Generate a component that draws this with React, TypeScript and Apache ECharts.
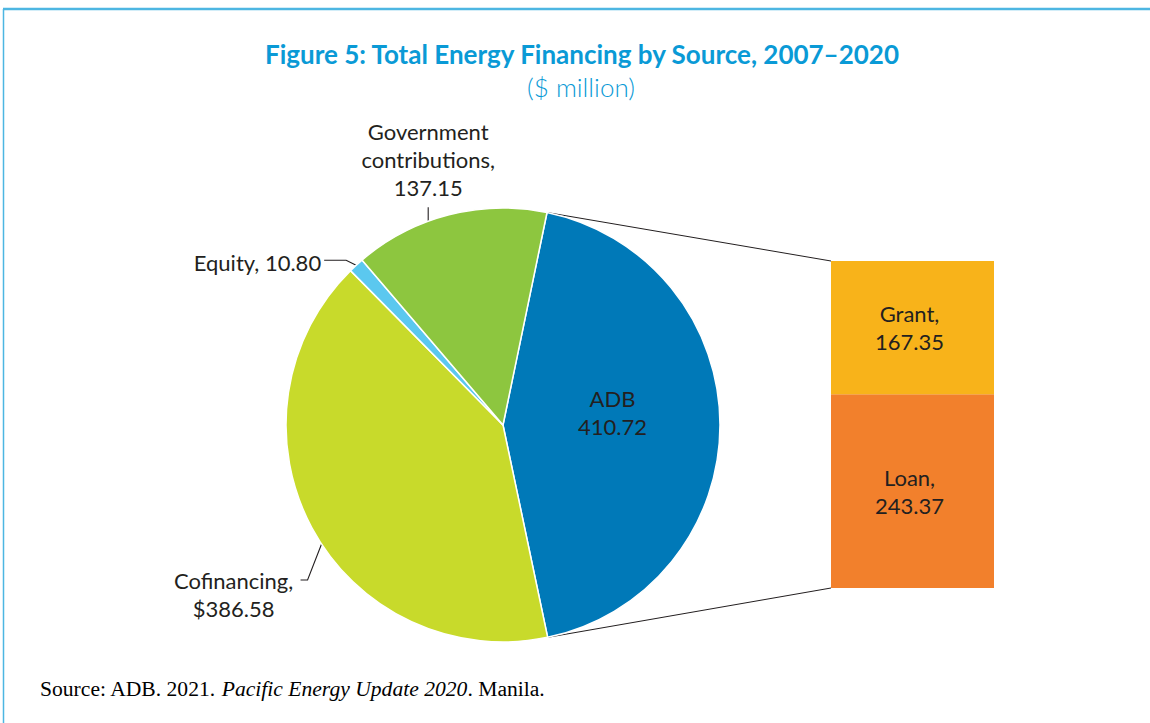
import React, { useEffect, useRef } from 'react';
import * as echarts from 'echarts';

const pieNames = ['ADB', 'Cofinancing', 'Equity', 'Government contributions'];
const pieLabels = ['ADB\n410.72', 'Cofinancing,\n$386.58', 'Equity, 10.80', 'Government\ncontributions,\n137.15'];
const pieValues = [410.72, 386.58, 10.8, 137.15];
const pieColors = ['#0079b8', '#c8da2b', '#5bc8ef', '#8dc63f'];

const adbCategory = ['ADB'];
const adbNames = ['Loan', 'Grant'];
const adbValues = [243.37, 167.35];
const adbColors = ['#f2802c', '#f8b31a'];

const W = 1150;
const H = 723;
const CX = 503;
const CY = 425;
const R = 217;
const START = 78.3;
const BAR = { left: 831, top: 261, width: 163, height: 327 };
const INK = '#231f20';
const FONT = 'Lato';
const LABEL_SIZE = 22;

const total = pieValues.reduce((a, b) => a + b, 0);
const adbTotal = adbValues.reduce((a, b) => a + b, 0);

function sliceAngles(i: number) {
  let cum = 0;
  for (let k = 0; k < i; k++) cum += pieValues[k];
  const a0 = START - (360 * cum) / total;
  const a1 = a0 - (360 * pieValues[i]) / total;
  return [a0, a1];
}
function arcPoint(deg: number, rad: number = R): [number, number] {
  const r = (deg * Math.PI) / 180;
  return [CX + rad * Math.cos(r), CY - rad * Math.sin(r)];
}
function sliceFrac(i: number, f: number, rad: number = R) {
  const [a0, a1] = sliceAngles(i);
  return arcPoint(a0 + (a1 - a0) * f, rad);
}

export default function App() {
  const ref = useRef<HTMLDivElement>(null);
  useEffect(() => {
    if (!ref.current) return;
    const chart = echarts.init(ref.current, null, { renderer: 'svg' });
    chart.setOption({
      animation: false,
      grid: { left: BAR.left, top: BAR.top, width: BAR.width, height: BAR.height },
      xAxis: { type: 'category', data: adbCategory, show: false },
      yAxis: { type: 'value', min: 0, max: adbTotal, show: false },
      series: [
        {
          type: 'pie',
          center: [CX, CY],
          radius: [0, R],
          startAngle: START,
          clockwise: true,
          avoidLabelOverlap: false,
          itemStyle: { borderColor: '#ffffff', borderWidth: 1.5 },
          label: {
            show: true,
            color: INK,
            fontFamily: FONT,
            fontSize: LABEL_SIZE,
            lineHeight: 28,
          },
          labelLine: { show: true, lineStyle: { color: INK, width: 1.1 }, length: 10, length2: 10 },
          labelLayout: (params: any) => {
            const i = params.dataIndex;
            if (i === 0) {
              const c = sliceFrac(0, 0.5, R / 2);
              return { x: c[0] + 1, y: c[1] - 12, align: 'center', verticalAlign: 'middle' };
            }
            if (i === 3) {
              const p0 = sliceFrac(3, 0.39);
              return {
                x: p0[0],
                y: p0[1] - 20,
                align: 'center',
                verticalAlign: 'bottom',
                labelLinePoints: [p0, [p0[0], p0[1] - 14], [p0[0], p0[1] - 14]],
              };
            }
            if (i === 2) {
              const p0 = sliceFrac(2, 0.5);
              return {
                x: p0[0] - 35,
                y: p0[1] - 3,
                align: 'right',
                verticalAlign: 'middle',
                labelLinePoints: [p0, [p0[0] - 10, p0[1] - 5], [p0[0] - 32, p0[1] - 5]],
              };
            }
            if (i === 1) {
              const p0 = sliceFrac(1, 0.466);
              return {
                x: p0[0] - 88,
                y: p0[1] + 50,
                align: 'center',
                verticalAlign: 'middle',
                labelLinePoints: [p0, [p0[0] - 14, p0[1] + 36], [p0[0] - 21, p0[1] + 36]],
              };
            }
            return {};
          },
          data: pieValues.map((v, i) => ({
            name: pieNames[i],
            value: v,
            itemStyle: { color: pieColors[i] },
            label: {
              formatter: pieLabels[i],
              position: i === 0 ? 'inner' : 'outside',
            },
            labelLine: { show: i !== 0 },
          })),
        },
        ...adbNames.map((n, i) => ({
          type: 'bar',
          name: n,
          stack: 'adb',
          barWidth: '100%',
          data: [adbValues[i]],
          itemStyle: { color: adbColors[i] },
          label: {
            show: true,
            position: 'inside',
            offset: [-3, 0],
            formatter: `${n},\n${adbValues[i].toFixed(2)}`,
            color: INK,
            fontFamily: FONT,
            fontSize: LABEL_SIZE,
            lineHeight: 28,
          },
        })),
      ],
    });

    const yTop = chart.convertToPixel({ yAxisIndex: 0 }, adbTotal) as number;
    const yBot = chart.convertToPixel({ yAxisIndex: 0 }, 0) as number;
    const [a0, a1] = sliceAngles(0);
    const pTop = arcPoint(a0);
    const pBot = arcPoint(a1);

    chart.setOption({
      graphic: [
        { type: 'line', shape: { x1: 3, y1: 9, x2: W, y2: 9 }, style: { stroke: '#4db6e2', lineWidth: 2.5 } },
        { type: 'line', shape: { x1: 3.5, y1: 9, x2: 3.5, y2: H }, style: { stroke: '#4db6e2', lineWidth: 1.5 } },
        {
          type: 'text',
          x: 582,
          y: 54,
          style: {
            text: 'Figure 5: Total Energy Financing by Source, 2007–2020',
            fill: '#0a9ad6',
            font: `bold 26px ${FONT}`,
            align: 'center',
            verticalAlign: 'middle',
          },
        },
        {
          type: 'text',
          x: 581,
          y: 87,
          style: {
            text: '($ million)',
            fill: '#0a9ad6',
            font: `300 26px ${FONT}`,
            align: 'center',
            verticalAlign: 'middle',
          },
        },
        {
          type: 'text',
          x: 40,
          y: 689,
          style: {
            text: '{a|Source: ADB. 2021. }{i|Pacific Energy Update 2020}{a|. Manila.}',
            verticalAlign: 'middle',
            rich: {
              a: { fontFamily: 'Liberation Serif', fontSize: 21.6, color: '#333333' },
              i: { fontFamily: 'Liberation Serif', fontSize: 21.6, fontStyle: 'italic', color: '#333333' },
            },
          },
        },
        { type: 'line', shape: { x1: pTop[0], y1: pTop[1], x2: BAR.left, y2: yTop }, style: { stroke: INK, lineWidth: 1 } },
        { type: 'line', shape: { x1: pBot[0], y1: pBot[1], x2: BAR.left, y2: yBot }, style: { stroke: INK, lineWidth: 1 } },
      ],
    });

    return () => chart.dispose();
  }, []);
  return <div ref={ref} style={{ position: 'fixed', left: 0, top: 0, width: W, height: H, background: '#fff' }} />;
}
